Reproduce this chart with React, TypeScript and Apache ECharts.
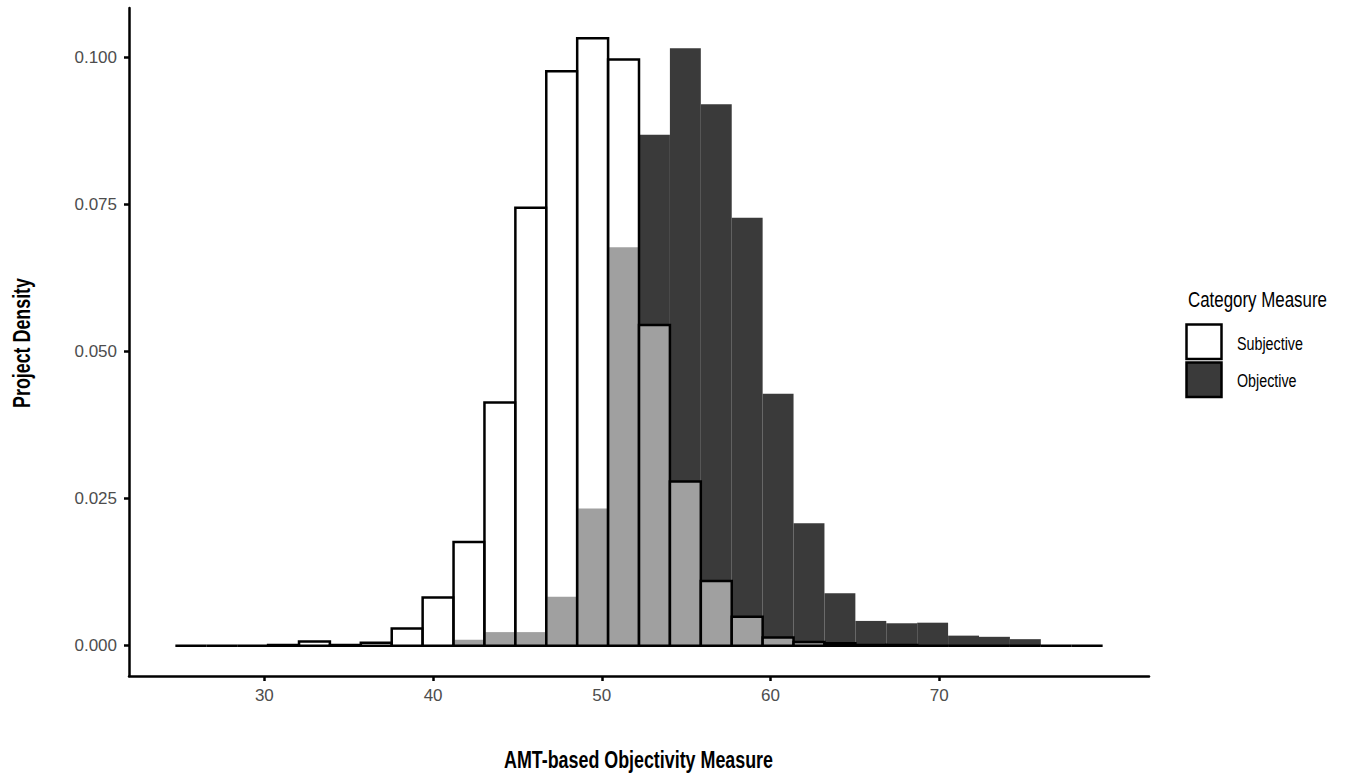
import React, { useEffect, useRef } from "react";
import * as echarts from "echarts";

// Histogram geometry (30 bins, shared by both groups)
const BIN_START = 24.726;
const BIN_WIDTH = 1.8318;

// Density per bin
const SUBJECTIVE = [
  0, 0, 0, 0.0001, 0.0007, 0.0001, 0.0005, 0.0029, 0.0082, 0.0176,
  0.0413, 0.0744, 0.0976, 0.1032, 0.0996, 0.0545, 0.0279, 0.011, 0.0049, 0.0014,
  0.0006, 0.0004, 0.0001, 0.0001, 0, 0, 0, 0, 0, 0,
];
const OBJECTIVE = [
  0, 0, 0, 0, 0, 0, 0, 0, 0, 0.001,
  0.0023, 0.0023, 0.0083, 0.0233, 0.0677, 0.0868, 0.1015, 0.092, 0.0727, 0.0428,
  0.0208, 0.0089, 0.0042, 0.0038, 0.0039, 0.0017, 0.0015, 0.0011, 0, 0,
];

const X_TICKS = [30, 40, 50, 60, 70];
const Y_TICKS = [0, 0.025, 0.05, 0.075, 0.1];
const X_TITLE = "AMT-based Objectivity Measure";
const Y_TITLE = "Project Density";
const LEGEND_TITLE = "Category Measure";
const SERIES_NAMES = ["Subjective", "Objective"];

const FONT = '"Liberation Sans", Arial, sans-serif';
const DARK = "#3a3a3a";

function toBars(values: number[]) {
  return values.map((v, i) => [BIN_START + i * BIN_WIDTH, BIN_START + (i + 1) * BIN_WIDTH, v]);
}

function makeRender(fill: string, stroke: string | null, lineWidth: number) {
  return (_params: any, api: any) => {
    const x0 = api.value(0);
    const x1 = api.value(1);
    const v = api.value(2);
    const p0 = api.coord([x0, 0]);
    const p1 = api.coord([x1, v]);
    return {
      type: "polygon",
      shape: {
        points: [
          [p0[0], p0[1]],
          [p0[0], p1[1]],
          [p1[0], p1[1]],
          [p1[0], p0[1]],
        ],
      },
      style: stroke
        ? { fill, stroke, lineWidth, lineJoin: "miter" }
        : { fill, stroke: null, lineWidth: 0 },
    };
  };
}

export default function App() {
  const ref = useRef<HTMLDivElement>(null);

  useEffect(() => {
    if (!ref.current) return;
    const chart = echarts.init(ref.current, null, { renderer: "svg" });
    const xMin = BIN_START - 0.05 * 30 * BIN_WIDTH;
    const xMax = BIN_START + 30 * BIN_WIDTH + 0.05 * 30 * BIN_WIDTH;
    const yMaxData = Math.max(...SUBJECTIVE, ...OBJECTIVE);
    const option: any = {
      animation: false,
      backgroundColor: "#ffffff",
      textStyle: { fontFamily: FONT },
      grid: { left: 129, right: 196, top: 8, bottom: 102, containLabel: false },
      xAxis: {
        type: "value",
        min: xMin,
        max: xMax,
        splitLine: { show: false },
        axisLine: { show: true, onZero: false, lineStyle: { color: "#000", width: 2.5 } },
        axisTick: { show: true, customValues: X_TICKS, length: 5, lineStyle: { color: "#000", width: 2.5 } },
        axisLabel: {
          show: true,
          customValues: X_TICKS,
          margin: 11,
          color: "#4d4d4d",
          fontSize: 17,
          fontFamily: FONT,
          formatter: (v: number) => String(v),
        },
      },
      yAxis: {
        type: "value",
        min: -0.05 * yMaxData,
        max: yMaxData * 1.05,
        splitLine: { show: false },
        axisLine: { show: true, onZero: false, lineStyle: { color: "#000", width: 2.5 } },
        axisTick: { show: true, customValues: Y_TICKS, length: 5, lineStyle: { color: "#000", width: 2.5 } },
        axisLabel: {
          show: true,
          customValues: Y_TICKS,
          margin: 12,
          color: "#4d4d4d",
          fontSize: 17,
          fontFamily: FONT,
          formatter: (v: number) => v.toFixed(3),
        },
      },
      series: [
        {
          name: SERIES_NAMES[1],
          type: "custom",
          renderItem: makeRender(DARK, null, 0),
          encode: { x: [0, 1], y: 2 },
          data: toBars(OBJECTIVE),
          clip: false,
        },
        {
          name: SERIES_NAMES[0],
          type: "custom",
          renderItem: makeRender("rgba(255,255,255,0.52)", "#000", 2.5),
          encode: { x: [0, 1], y: 2 },
          data: toBars(SUBJECTIVE),
          clip: false,
        },
      ],
      graphic: [
        {
          type: "text",
          x: 638.5,
          y: 760,
          scaleX: 0.777,
          style: { text: X_TITLE, fontSize: 23, fontWeight: "bold", fontFamily: FONT, fill: "#000", align: "center", verticalAlign: "middle" },
        },
        {
          type: "text",
          x: 21.5,
          y: 343,
          rotation: Math.PI / 2,
          scaleX: 0.776,
          style: { text: Y_TITLE, fontSize: 23, fontWeight: "bold", fontFamily: FONT, fill: "#000", align: "center", verticalAlign: "middle" },
        },
        {
          type: "text",
          x: 1188,
          y: 299,
          scaleX: 0.768,
          style: { text: LEGEND_TITLE, fontSize: 22, fontFamily: FONT, fill: "#000", align: "left", verticalAlign: "middle" },
        },
        {
          type: "rect",
          shape: { x: 1186.5, y: 324.5, width: 35, height: 34.5 },
          style: { fill: "#ffffff", stroke: "#000", lineWidth: 2.5 },
        },
        {
          type: "rect",
          shape: { x: 1186.5, y: 362.5, width: 35, height: 34.5 },
          style: { fill: DARK, stroke: "#000", lineWidth: 2.5 },
        },
        {
          type: "text",
          x: 1237,
          y: 344,
          scaleX: 0.753,
          style: { text: SERIES_NAMES[0], fontSize: 19, fontFamily: FONT, fill: "#000", align: "left", verticalAlign: "middle" },
        },
        {
          type: "text",
          x: 1237,
          y: 381,
          scaleX: 0.753,
          style: { text: SERIES_NAMES[1], fontSize: 19, fontFamily: FONT, fill: "#000", align: "left", verticalAlign: "middle" },
        },
      ],
    };
    chart.setOption(option);
    return () => chart.dispose();
  }, []);

  return (
    <div
      ref={ref}
      style={{ position: "fixed", left: 0, top: 0, width: 1345, height: 778, background: "#fff" }}
    />
  );
}
